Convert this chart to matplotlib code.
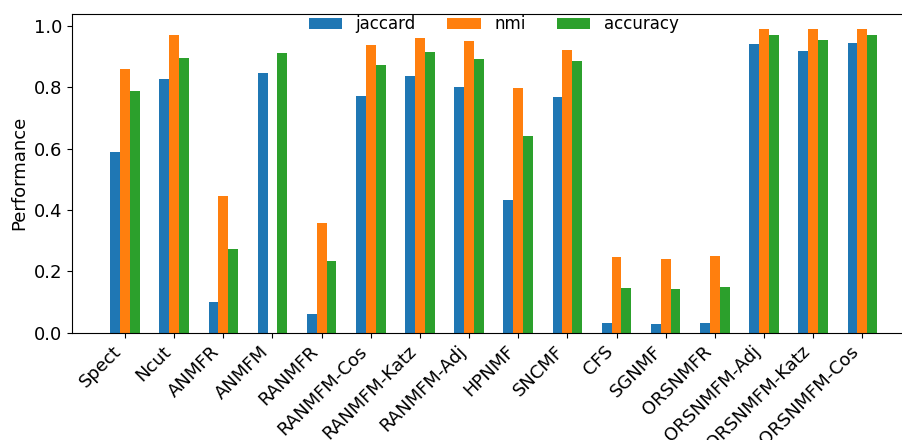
import matplotlib
matplotlib.use("Agg")
import matplotlib.pyplot as plt
import numpy as np

methods = ["Spect", "Ncut", "ANMFR", "ANMFM", "RANMFR", "RANMFM-Cos",
           "RANMFM-Katz", "RANMFM-Adj", "HPNMF", "SNCMF", "CFS", "SGNMF",
           "ORSNMFR", "ORSNMFM-Adj", "ORSNMFM-Katz", "ORSNMFM-Cos"]
jaccard = [0.590, 0.825, 0.099, 0.846, 0.060, 0.770, 0.837, 0.800,
           0.431, 0.768, 0.031, 0.027, 0.033, 0.941, 0.919, 0.944]
nmi = [0.860, 0.970, 0.446, 0.0, 0.356, 0.936, 0.961, 0.950,
       0.798, 0.921, 0.246, 0.240, 0.249, 0.988, 0.990, 0.988]
accuracy = [0.787, 0.894, 0.273, 0.912, 0.234, 0.873, 0.915, 0.891,
            0.640, 0.886, 0.145, 0.142, 0.150, 0.971, 0.953, 0.971]

fs = 13
x = np.arange(len(methods))
w = 0.2

fig = plt.figure(figsize=(9.03, 4.40), dpi=100)
ax = fig.add_axes([0.0797, 0.244, 0.934, 0.725])
ax.bar(x - w, jaccard, w, label="jaccard", color="tab:blue")
ax.bar(x, nmi, w, label="nmi", color="tab:orange")
ax.bar(x + w, accuracy, w, label="accuracy", color="tab:green")

ax.set_xticks(x)
ax.set_xticklabels(methods, rotation=45, ha="right", fontsize=fs)
ax.tick_params(axis="y", labelsize=fs)
ax.set_ylabel("Performance", fontsize=fs)
ax.legend(loc="upper center", bbox_to_anchor=(0.5, 1.042), ncol=3,
          frameon=False, fontsize=12, columnspacing=1.9)

fig.savefig("out.png", dpi=100)
